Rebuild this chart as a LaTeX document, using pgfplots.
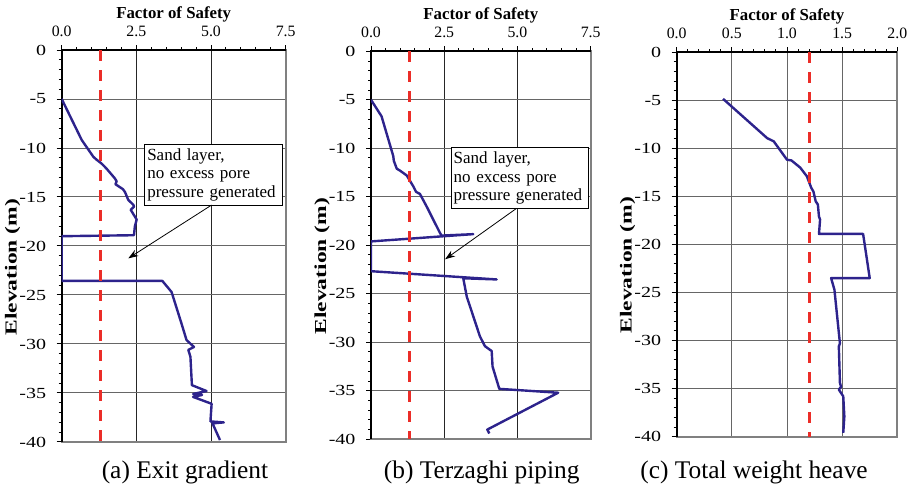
\documentclass[border=0pt]{standalone}
\usepackage{fontspec}
\setmainfont{Liberation Serif}
\usepackage{pgfplots}
\pgfplotsset{compat=1.18}
\usetikzlibrary{arrows.meta}
\definecolor{fsblue}{RGB}{45,35,140}
\definecolor{fsred}{RGB}{235,45,40}

\pgfplotsset{
  fsaxis/.style={
    scale only axis,
    clip mode=individual,
    ymin=-40, ymax=0, ytick={-40,-35,...,0}, minor y tick num=4,
    xtick pos=top, xticklabel pos=top, ytick pos=left,
    tick align=outside, major tick length=2.5pt, minor tick length=1.5pt,
    every tick/.style={black, line width=0.5pt},
    xmajorgrids, ymajorgrids,
    major x grid style={black!85, line width=0.5pt},
    major y grid style={black!60, line width=0.5pt},
    axis line style={draw=black!50, line width=1pt},
    xticklabel={\pgfmathprintnumber[fixed,fixed zerofill,precision=1,assume math mode=true]{\tick}},
    yticklabel={\pgfmathprintnumber[assume math mode=true]{\tick}},
    xticklabel style={font=\fontsize{7.9}{8}\selectfont, anchor=base, yshift=4.2pt},
    yticklabel style={font=\fontsize{7.7}{8}\selectfont, anchor=east, inner sep=0pt, xshift=-5pt, xscale=1.3},
  },
  fscurve/.style={fsblue, line width=1.2pt, line join=round},
  fsline/.style={fsred, line width=1.5pt, dash pattern=on 5.5pt off 4.5pt},
}
\newcommand{\fsframe}{%
  \draw[black, line width=0.9pt] (rel axis cs:0,0) -- (rel axis cs:0,1) -- (rel axis cs:1,1);
  \node[font=\fontsize{8.4}{9}\selectfont\bfseries, anchor=base, yshift=16pt]
    at (rel axis cs:0.5,1) {Factor of Safety};
  \node[font=\fontsize{8.4}{9}\selectfont\bfseries, xshift=-24.5pt, rotate=90, xscale=1.4]
    at (rel axis cs:0,0.446) {Elevation (m)};}

\begin{document}
\begin{tikzpicture}
\path[use as bounding box] (0,0) rectangle (456pt,-243.5pt);

% (a) exit gradient
\begin{axis}[fsaxis, at={(30.85pt,-25pt)}, anchor=north west,
  width=112pt, height=196pt,
  xmin=0, xmax=7.5, xtick={0,2.5,5,7.5}, minor x tick num=4]
\fsframe
\addplot[fscurve] coordinates {
  (0,-5) (0.67,-9.18) (1.06,-10.9) (1.17,-11.2) (1.34,-11.6) (1.5,-12.1)
  (1.78,-13.1) (1.84,-13.4) (1.80,-13.7) (2.05,-14.2) (2.12,-14.5) (2.23,-15.3)
  (2.40,-15.8) (2.42,-16.0) (2.31,-16.3) (2.51,-17.3) (2.45,-18.0) (2.42,-18.9)
  (0,-19.0) (0,-23.56) (3.37,-23.56) (3.68,-24.7) (4.01,-27.9) (4.18,-29.6)
  (4.43,-30.3) (4.24,-30.6) (4.31,-31.3) (4.36,-34.2) (4.85,-34.8) (4.40,-35.1)
  (4.70,-35.2) (4.40,-35.4) (5.02,-36.1) (4.98,-37.9) (5.43,-38.0) (5.05,-38.1)
  (5.30,-39.8)};
\addplot[fsline] coordinates {(1.3,0) (1.3,-40)};
\node[draw=black, line width=0.4pt, fill=white, anchor=north west, text width=66.1pt,
  minimum height=30.5pt, align=left, inner sep=1.3pt, font=\fontsize{8.5}{9.4}\selectfont]
  at (axis cs:2.765,-9.59) {Sand layer,\\no excess pore\\pressure generated};
\draw[-{Stealth[length=5pt,width=3.5pt]}, line width=0.4pt] (axis cs:5.02,-15.82) -- (axis cs:2.23,-21.26);
\end{axis}

% (b) Terzaghi piping
\begin{axis}[fsaxis, at={(185.5pt,-25.65pt)}, anchor=north west,
  width=109.85pt, height=194pt,
  xmin=0, xmax=7.5, xtick={0,2.5,5,7.5}, minor x tick num=4]
\fsframe
\addplot[fscurve] coordinates {
  (0,-5) (0.36,-6.7) (0.76,-10.8) (0.78,-11.3) (0.88,-12.1) (0.99,-12.3)
  (1.22,-12.8) (1.44,-13.9) (1.54,-14.5) (1.67,-14.7) (1.90,-16.0) (2.35,-18.7)
  (2.41,-19.0) (3.49,-18.85) (0,-19.6) (0,-22.67) (4.29,-23.52) (3.15,-23.4)
  (3.27,-25.3) (3.72,-29.4) (3.89,-30.4) (4.12,-30.9) (4.15,-32.5) (4.38,-34.8)
  (6.39,-35.2) (3.97,-39.0) (4.04,-39.4)};
\addplot[fsline] coordinates {(1.3,0) (1.3,-40)};
\node[draw=black, line width=0.4pt, fill=white, anchor=north west, text width=66.2pt,
  minimum height=30.8pt, align=left, inner sep=1.3pt, font=\fontsize{8.5}{9.4}\selectfont]
  at (axis cs:2.72,-9.84) {Sand layer,\\no excess pore\\pressure generated};
\draw[-{Stealth[length=5pt,width=3.5pt]}, line width=0.4pt] (axis cs:4.97,-16.19) -- (axis cs:2.53,-21.44);
\end{axis}

% (c) total weight heave
\begin{axis}[fsaxis, at={(338.35pt,-26.15pt)}, anchor=north west,
  width=110.3pt, height=192.2pt,
  xmin=0, xmax=2, xtick={0,0.5,...,2}, minor x tick num=4,
  major x grid style={black!60, line width=0.5pt}]
\fsframe
\addplot[fscurve] coordinates {
  (0.42,-4.84) (0.82,-8.93) (0.88,-9.27) (1.0,-11.18) (1.04,-11.25) (1.12,-12.0)
  (1.18,-12.9) (1.22,-14.1) (1.24,-14.5) (1.26,-15.5) (1.28,-15.85) (1.29,-17.1)
  (1.30,-17.4) (1.29,-18.9) (1.69,-18.9) (1.75,-23.5) (1.40,-23.5) (1.43,-24.7)
  (1.48,-30.3) (1.47,-30.6) (1.48,-34.4) (1.49,-34.8) (1.47,-35.1) (1.51,-35.8)
  (1.52,-37.9) (1.51,-39.6)};
\addplot[fsline] coordinates {(1.2,0) (1.2,-40)};
\end{axis}

\node[anchor=base, font=\fontsize{12.7}{14}\selectfont] at (92.5pt,-239pt) {(a) Exit gradient};
\node[anchor=base, font=\fontsize{12.7}{14}\selectfont] at (240.85pt,-239pt) {(b) Terzaghi piping};
\node[anchor=base, font=\fontsize{12.7}{14}\selectfont] at (377pt,-239pt) {(c) Total weight heave};
\end{tikzpicture}
\end{document}
